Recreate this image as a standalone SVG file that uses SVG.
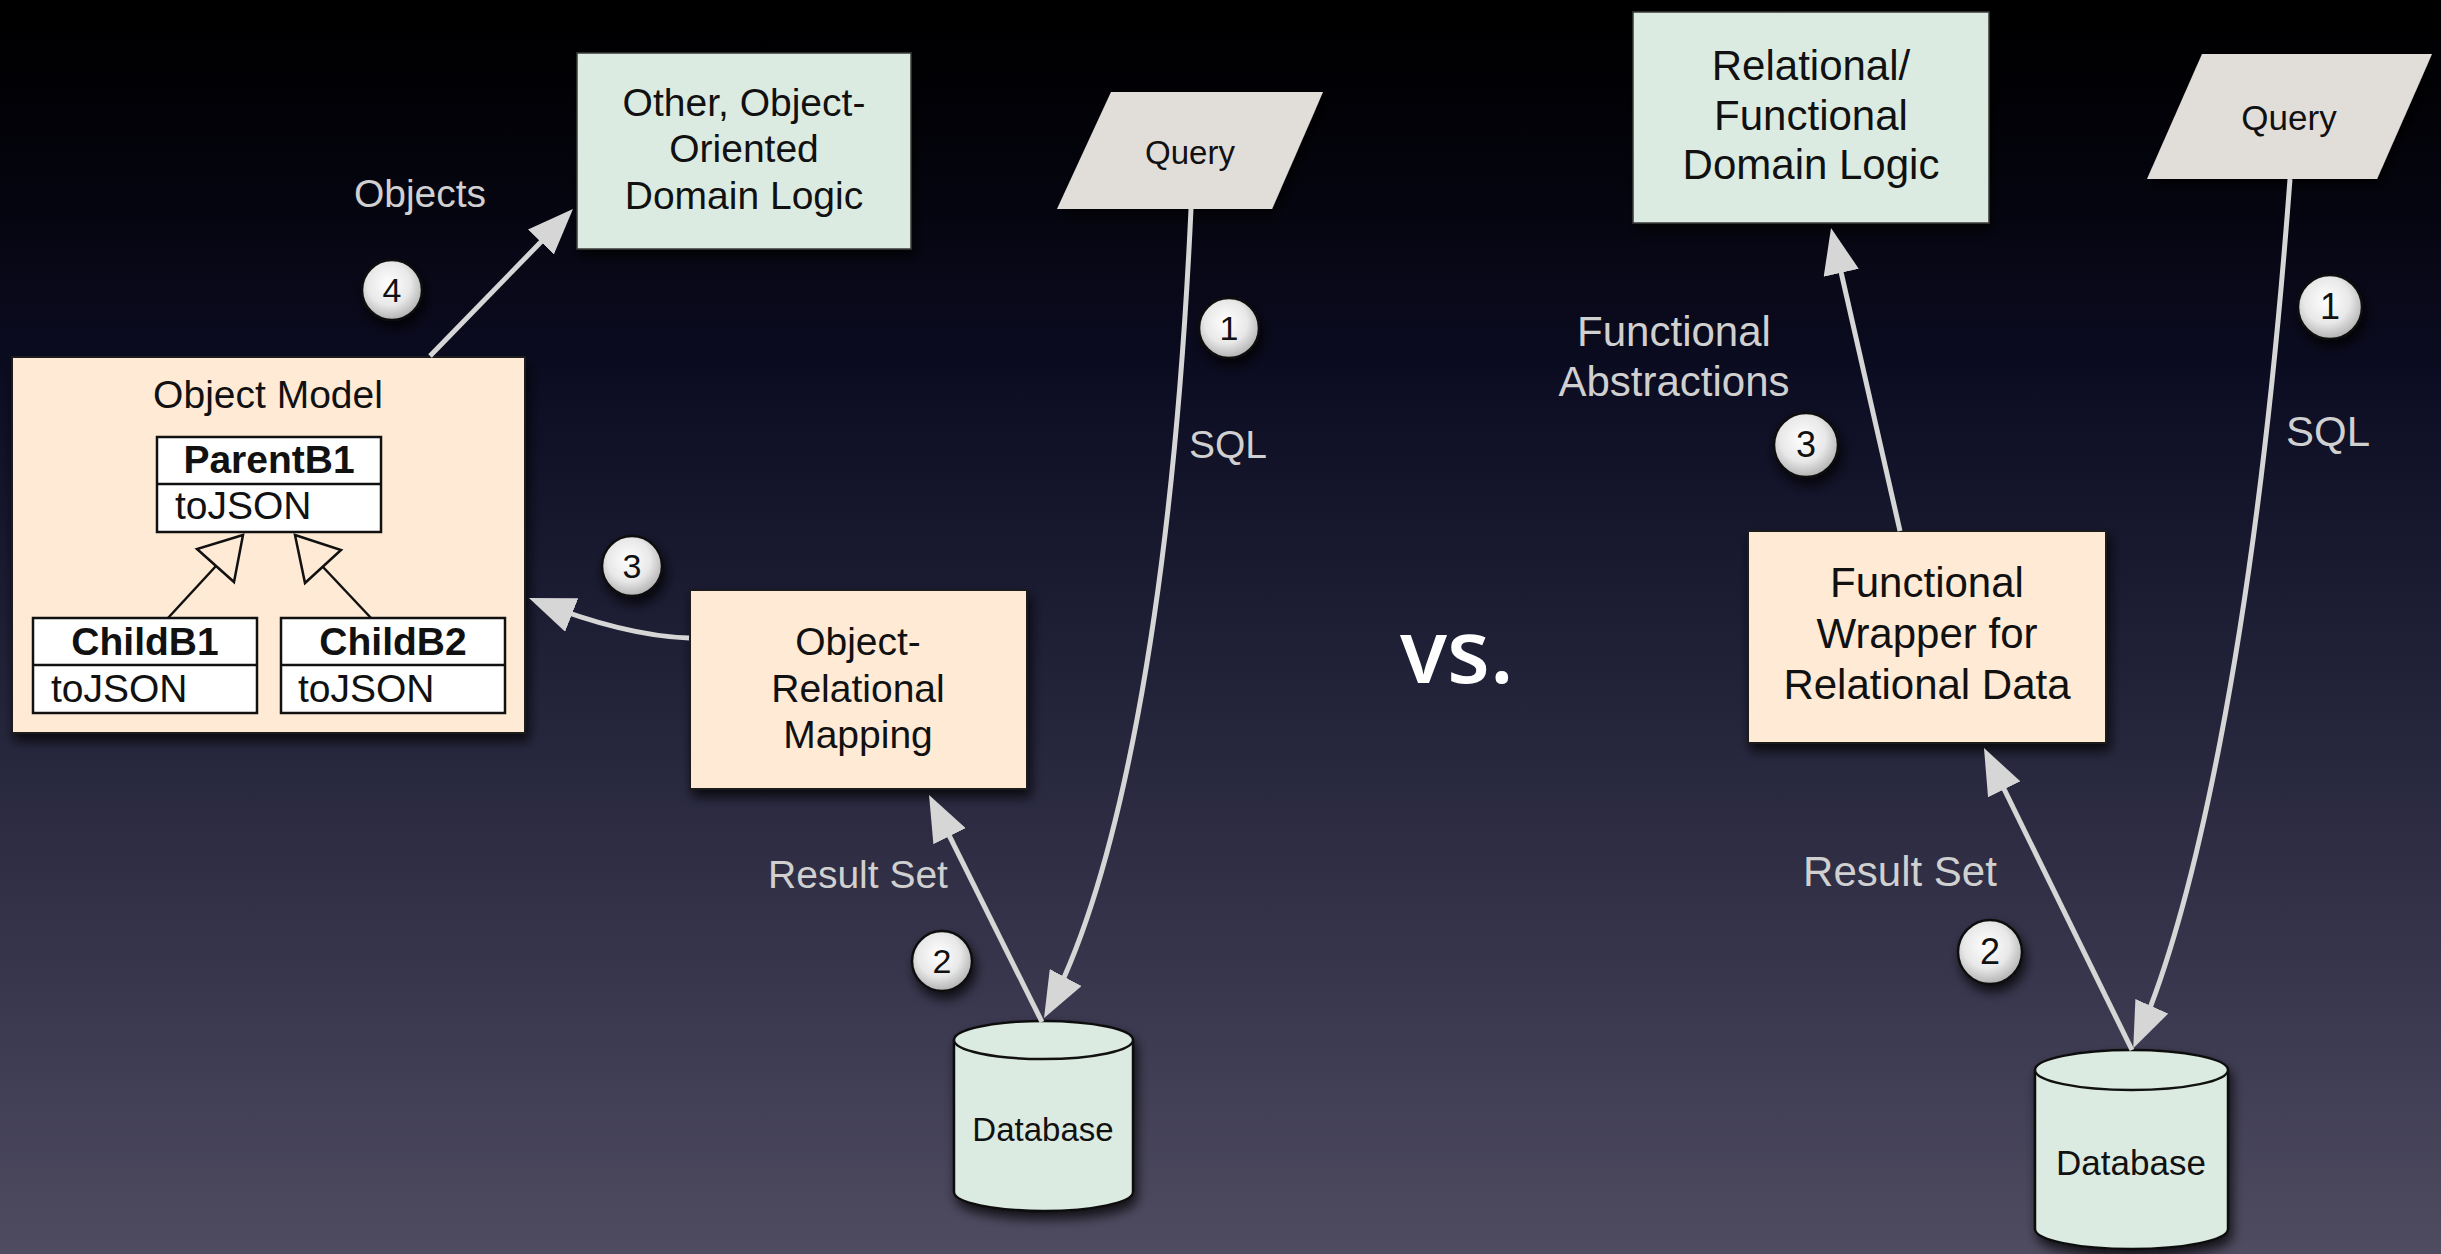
<svg xmlns="http://www.w3.org/2000/svg" width="2441" height="1254" viewBox="0 0 2441 1254">
<defs>
<linearGradient id="bg" x1="0" y1="0" x2="0" y2="1">
<stop offset="0" stop-color="#000000"/>
<stop offset="0.1" stop-color="#020208"/>
<stop offset="0.3" stop-color="#0c0c22"/>
<stop offset="0.55" stop-color="#222239"/>
<stop offset="0.8" stop-color="#3a384f"/>
<stop offset="1" stop-color="#4f4c61"/>
</linearGradient>
<radialGradient id="ball" cx="0.45" cy="0.4" r="0.65">
<stop offset="0" stop-color="#ffffff"/>
<stop offset="0.55" stop-color="#e8e8e8"/>
<stop offset="1" stop-color="#a8a8a8"/>
</radialGradient>
<filter id="sh" x="-20%" y="-20%" width="150%" height="150%">
<feDropShadow dx="3" dy="7" stdDeviation="6" flood-color="#000" flood-opacity="0.75"/>
</filter>
<marker id="ah" viewBox="0 0 46 36" refX="38" refY="18" markerWidth="46" markerHeight="36" markerUnits="userSpaceOnUse" orient="auto">
<path d="M0,0 L46,18 L0,36 z" fill="#d6d6d6"/>
</marker>
<style>
text { font-family: "Liberation Sans", Arial, Helvetica, sans-serif; }
.t { fill:#111; text-anchor:middle; font-size:39px; }
.tr { fill:#111; text-anchor:middle; font-size:42px; }
.small { fill:#111; text-anchor:middle; font-size:33px; }
.smallr { fill:#111; text-anchor:middle; font-size:35px; }
.lbl { fill:#d0d0d0; text-anchor:middle; font-size:39px; }
.lblr { fill:#d0d0d0; text-anchor:middle; font-size:42px; }
.bold { font-weight:bold; }
.peach { fill:#feead5; stroke:#1a1a1a; stroke-width:2; filter:url(#sh); }
.mint { fill:#dcebe1; stroke:#3a3a3a; stroke-width:1.5; filter:url(#sh); }
.query { fill:#e1ded9; filter:url(#sh); }
.db { fill:#dcebe1; stroke:#111; stroke-width:2.5; }
.cls { fill:#ffffff; stroke:#111; stroke-width:2.5; }
.uml { fill:none; stroke:#111; stroke-width:2.5; }
.tri { fill:#feead5; stroke:#111; stroke-width:2.5; stroke-linejoin:miter; }
.conn { fill:none; stroke:#d6d6d6; stroke-width:5; marker-end:url(#ah); }
.num circle { fill:url(#ball); stroke:#111; stroke-width:2.5; filter:url(#sh); }
.num text { fill:#111; text-anchor:middle; font-size:34px; }
</style>
</defs>

<rect x="0" y="0" width="2441" height="1254" fill="url(#bg)"/>

<!-- Left side nodes -->
<g id="oo-domain-logic">
<rect class="mint" x="577" y="53" width="334" height="196"/>
<text class="t" x="744" y="116">Other, Object-</text>
<text class="t" x="744" y="162">Oriented</text>
<text class="t" x="744" y="209">Domain Logic</text>
</g>

<g id="query-left">
<polygon class="query" points="1111,92 1323,92 1272,209 1057,209"/>
<text class="small" x="1190" y="164">Query</text>
</g>

<g id="object-model">
<rect class="peach" x="12" y="357" width="513" height="376"/>
<text class="t" x="268" y="408">Object Model</text>
<g id="parentb1">
<rect class="cls" x="157" y="437" width="224" height="95"/>
<line class="uml" x1="157" y1="484" x2="381" y2="484"/>
<text class="t bold" x="269" y="473">ParentB1</text>
<text class="t" x="175" y="519" style="text-anchor:start">toJSON</text>
</g>
<g id="childb1">
<rect class="cls" x="33" y="618" width="224" height="95"/>
<line class="uml" x1="33" y1="665" x2="257" y2="665"/>
<text class="t bold" x="145" y="655">ChildB1</text>
<text class="t" x="51" y="702" style="text-anchor:start">toJSON</text>
</g>
<g id="childb2">
<rect class="cls" x="281" y="618" width="224" height="95"/>
<line class="uml" x1="281" y1="665" x2="505" y2="665"/>
<text class="t bold" x="393" y="655">ChildB2</text>
<text class="t" x="298" y="702" style="text-anchor:start">toJSON</text>
</g>
<g id="inheritance">
<line class="uml" x1="168" y1="618" x2="216" y2="566"/>
<polygon class="tri" points="243,535 197,549 234,582"/>
<line class="uml" x1="371" y1="618" x2="323" y2="567"/>
<polygon class="tri" points="295,535 341,550 305,583"/>
</g>
</g>

<g id="orm">
<rect class="peach" x="690" y="590" width="337" height="199"/>
<text class="t" x="858" y="655">Object-</text>
<text class="t" x="858" y="702">Relational</text>
<text class="t" x="858" y="748">Mapping</text>
</g>

<g id="database-left">
<path class="db" d="M954,1040 A89.5,19 0 0 1 1133,1040 L1133,1192 A89.5,19 0 0 1 954,1192 Z" filter="url(#sh)"/>
<path class="db" d="M954,1040 A89.5,19 0 0 0 1133,1040" fill="none"/>
<text class="small" x="1043" y="1141">Database</text>
</g>

<!-- vs. -->
<text x="1400" y="683" style="font-family:'Open Sans','Lato',sans-serif;font-weight:600;font-size:88px;fill:#ffffff">vs.</text>

<!-- Right side nodes -->
<g id="rf-domain-logic">
<rect class="mint" x="1633" y="12" width="356" height="211"/>
<text class="tr" x="1811" y="80">Relational/</text>
<text class="tr" x="1811" y="130">Functional</text>
<text class="tr" x="1811" y="179">Domain Logic</text>
</g>

<g id="query-right">
<polygon class="query" points="2202,54 2432,54 2377,179 2147,179"/>
<text class="smallr" x="2289" y="130">Query</text>
</g>

<g id="functional-wrapper">
<rect class="peach" x="1748" y="531" width="358" height="212"/>
<text class="tr" x="1927" y="597">Functional</text>
<text class="tr" x="1927" y="648">Wrapper for</text>
<text class="tr" x="1927" y="699">Relational Data</text>
</g>

<g id="database-right">
<path class="db" d="M2035,1070 A96.5,20 0 0 1 2228,1070 L2228,1229 A96.5,20 0 0 1 2035,1229 Z" filter="url(#sh)"/>
<path class="db" d="M2035,1070 A96.5,20 0 0 0 2228,1070" fill="none"/>
<text class="smallr" x="2131" y="1175">Database</text>
</g>

<!-- Connectors -->
<g id="connectors">
<path class="conn" d="M430,356 L567.4,214.7"/>
<path class="conn" d="M689,638 Q625,636 536.4,601"/>
<path class="conn" d="M1191,209 C1172,620 1115,885 1047.8,1011"/>
<path class="conn" d="M1042,1022 L932.6,802.2"/>
<path class="conn" d="M1900,531 L1832.8,235.8"/>
<path class="conn" d="M2290,179 C2255,650 2190,920 2136.5,1041"/>
<path class="conn" d="M2132,1050 L1987.5,755.2"/>
</g>

<!-- Connector labels -->
<g id="labels">
<text class="lbl" x="420" y="207">Objects</text>
<text class="lbl" x="1228" y="458">SQL</text>
<text class="lbl" x="858" y="888">Result Set</text>
<text class="lblr" x="1674" y="346">Functional</text>
<text class="lblr" x="1674" y="396">Abstractions</text>
<text class="lblr" x="2328" y="446">SQL</text>
<text class="lblr" x="1900" y="886">Result Set</text>
</g>

<!-- Step numbers -->
<g id="step-4-left" class="num"><circle cx="392" cy="290" r="30"/><text x="392" y="302">4</text></g>
<g id="step-3-left" class="num"><circle cx="632" cy="566" r="30"/><text x="632" y="578">3</text></g>
<g id="step-1-left" class="num"><circle cx="1229" cy="328" r="30"/><text x="1229" y="340">1</text></g>
<g id="step-2-left" class="num"><circle cx="942" cy="961" r="30"/><text x="942" y="973">2</text></g>
<g id="step-1-right" class="num"><circle cx="2330" cy="307" r="32"/><text x="2330" y="319" style="font-size:36px">1</text></g>
<g id="step-3-right" class="num"><circle cx="1806" cy="445" r="32"/><text x="1806" y="457" style="font-size:36px">3</text></g>
<g id="step-2-right" class="num"><circle cx="1990" cy="952" r="32"/><text x="1990" y="964" style="font-size:36px">2</text></g>
</svg>
